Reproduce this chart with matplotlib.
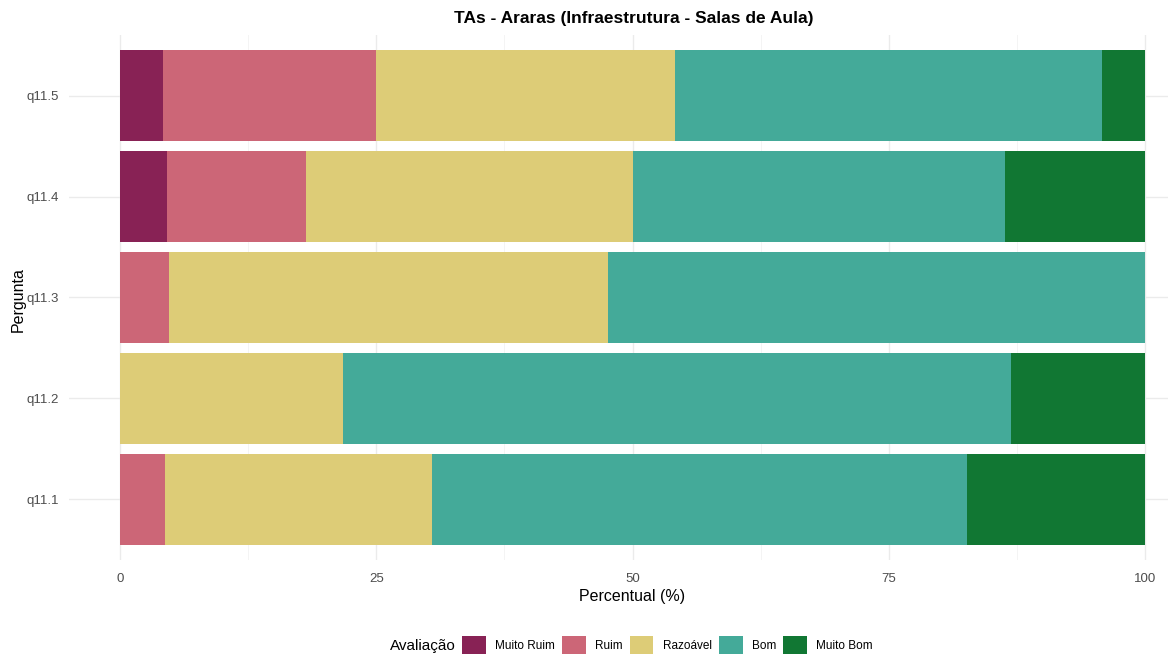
import numpy as np
import matplotlib.pyplot as plt
from matplotlib.patches import Patch

plt.rcParams["font.family"] = ["Liberation Sans", "DejaVu Sans"]

perguntas = ["q11.1", "q11.2", "q11.3", "q11.4", "q11.5"]
niveis = ["Muito Ruim", "Ruim", "Razoável", "Bom", "Muito Bom"]
cores = ["#882255", "#CC6677", "#DDCC77", "#44AA99", "#117733"]

# percentual por nivel, na ordem das perguntas
muito_ruim = [0.0, 0.0, 0.0, 4.55, 4.17]
ruim = [4.35, 0.0, 4.76, 13.64, 20.83]
razoavel = [26.09, 21.74, 42.86, 31.82, 29.17]
bom = [52.17, 65.22, 52.38, 36.36, 41.66]
muito_bom = [17.39, 13.04, 0.0, 13.63, 4.17]

valores = [muito_ruim, ruim, razoavel, bom, muito_bom]

W, H = 1168, 657
fig = plt.figure(figsize=(W / 100, H / 100), dpi=100)
# panel extends past the right edge, as in the reference
ax = fig.add_axes([68.75 / W, 1 - 560 / H, (1196.25 - 68.75) / W, (560 - 35) / H])

y = np.arange(1, len(perguntas) + 1)
left = np.zeros(len(perguntas))
for nome, cor, v in zip(niveis, cores, valores):
    v = np.array(v)
    ax.barh(y, v, left=left, height=0.9, color=cor, label=nome, zorder=2)
    left += v

ax.set_xlim(-5, 105)
ax.set_ylim(0.4, 5.6)
ax.set_yticks(y)
ax.set_yticklabels(perguntas)
ax.set_xticks([0, 25, 50, 75, 100])
ax.set_xticks([12.5, 37.5, 62.5, 87.5], minor=True)
ax.tick_params(length=0, which="both", colors="#4D4D4D", labelsize=9.5)
ax.tick_params(axis="x", pad=9)
ax.tick_params(axis="y", pad=7)
ax.grid(True, which="major", color="#EBEBEB", linewidth=1.0, zorder=0)
ax.grid(True, which="minor", axis="x", color="#F2F2F2", linewidth=0.6, zorder=0)
for s in ax.spines.values():
    s.set_visible(False)

fig.text(634 / W, 1 - 19 / H, "TAs - Araras (Infraestrutura - Salas de Aula)",
         ha="center", va="center", fontsize=12.5, fontweight="bold")
fig.text(632 / W, 1 - 597 / H, "Percentual (%)", ha="center", va="center", fontsize=11.5)
fig.text(18 / W, 1 - 300 / H, "Pergunta", ha="center", va="center",
         rotation=90, fontsize=11.5)

fig.text(390 / W, 1 - 646 / H, "Avaliação", ha="left", va="center", fontsize=11)
handles = [Patch(facecolor=c, edgecolor="none") for c in cores]
fig.legend(handles, niveis, loc="center left", bbox_to_anchor=(462 / W, 1 - 645 / H),
           ncol=5, frameon=False, fontsize=8.5, handlelength=2.0, handleheight=2.0,
           handletextpad=0.8, columnspacing=0.6, borderpad=0, borderaxespad=0)

fig.savefig("out.png", dpi=100)
